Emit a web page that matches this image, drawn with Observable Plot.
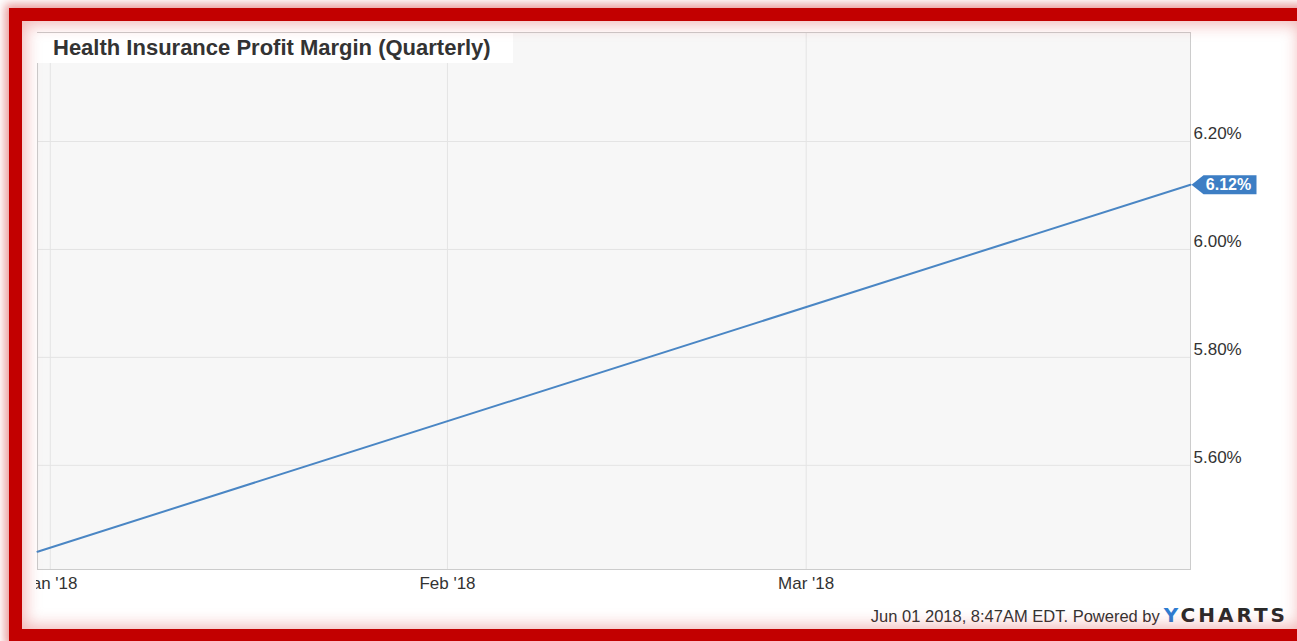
<!DOCTYPE html>
<html>
<head>
<meta charset="utf-8">
<script src="https://cdn.jsdelivr.net/npm/d3@7"></script>
<script src="https://cdn.jsdelivr.net/npm/@observablehq/plot@0.6"></script>
<style>
  html, body { margin: 0; padding: 0; background: #fff; width: 1297px; height: 641px; overflow: hidden;
    font-family: Arial, "Liberation Sans", Helvetica, sans-serif; }
  #chart { position: absolute; left: 36px; top: 0; width: 1261px; height: 641px; }
  #title { position: absolute; left: 37px; top: 33px; width: 460px; height: 30px; padding-left: 16px;
    background: #fff; color: #333; font-weight: bold; font-size: 22px; line-height: 30px; white-space: nowrap; }
  #footer { position: absolute; right: 9px; top: 603px; white-space: nowrap; display: flex; align-items: baseline; }
  #footer .stamp { font-size: 16.5px; color: #333; }
  #footer .logo { font-family: "DejaVu Sans", sans-serif; font-weight: bold; font-size: 20px; letter-spacing: 3px; margin-left: 4px; }
  #footer .logo .y { color: #2d7dd2; }
  #footer .logo .c { color: #2a2a2a; }
  #frame { position: absolute; left: 9px; top: 8px; width: 1280px; height: 608px; border: 13px solid #c20000;
    box-shadow: 0 0 9px 4px rgba(200, 0, 0, 0.4), inset 0 0 16px 3px rgba(215, 40, 40, 0.35);
    pointer-events: none; }
</style>
</head>
<body>
<div id="chart"></div>
<div id="title">Health Insurance Profit Margin (Quarterly)</div>
<div id="footer"><span class="stamp">Jun 01 2018, 8:47AM EDT. Powered by</span><span class="logo"><span class="y">Y</span><span class="c">CHARTS</span></span></div>
<div id="frame"></div>
<script>
// Data: quarter-end dates and profit margin (%)
const quarters = ["2017-12-31", "2018-03-31"];
const margins = [5.44, 6.12];

// Axis ticks
const yTicks = [5.6, 5.8, 6.0, 6.2];
const xTickDates = ["2018-01-01", "2018-02-01", "2018-03-01"];
const xTickLabels = ["Jan '18", "Feb '18", "Mar '18"];

const data = quarters.map((q, i) => ({date: new Date(q), value: margins[i]}));
const last = data[data.length - 1];
const xTicks = xTickDates.map(d => new Date(d));

const tagSymbol = {
  draw(ctx) {
    ctx.moveTo(1, 0);
    ctx.lineTo(13, -9.5);
    ctx.lineTo(66, -9.5);
    ctx.lineTo(66, 9.5);
    ctx.lineTo(13, 9.5);
    ctx.closePath();
  }
};

const chart = Plot.plot({
  width: 1261,
  height: 641,
  marginLeft: 1,
  marginRight: 107,
  marginTop: 32,
  marginBottom: 72,
  style: {background: "transparent", fontFamily: "Arial, 'Liberation Sans', sans-serif", color: "#333"},
  x: {type: "utc", domain: [data[0].date, last.date]},
  y: {domain: [5.407, 6.402]},
  marks: [
    Plot.frame({fill: "#f7f7f7"}),
    Plot.gridX(xTicks, {stroke: "#e4e4e4", strokeOpacity: 1}),
    Plot.gridY(yTicks, {stroke: "#e4e4e4", strokeOpacity: 1}),
    Plot.frame({stroke: "#cccccc"}),
    Plot.line(data, {x: "date", y: "value", stroke: "#4a86c4", strokeWidth: 2}),
    Plot.axisY(yTicks, {anchor: "right", tickSize: 0, tickPadding: 3, dy: -8, fontSize: 17, fill: "#333",
      tickFormat: d => d.toFixed(2) + "%", label: null}),
    Plot.axisX(xTicks, {anchor: "bottom", tickSize: 0, tickPadding: 7, fontSize: 17, fill: "#333",
      tickFormat: d => xTickLabels[xTicks.findIndex(t => +t === +d)], label: null}),
    Plot.dot([last], {x: "date", y: "value", symbol: tagSymbol, fill: "#3d7ec4", stroke: null}),
    Plot.text([last], {x: "date", y: "value", text: d => d.value.toFixed(2) + "%", dx: 38, fill: "white",
      fontWeight: "bold", fontSize: 16, textAnchor: "middle"})
  ]
});
document.getElementById("chart").appendChild(chart);
</script>
</body>
</html>
